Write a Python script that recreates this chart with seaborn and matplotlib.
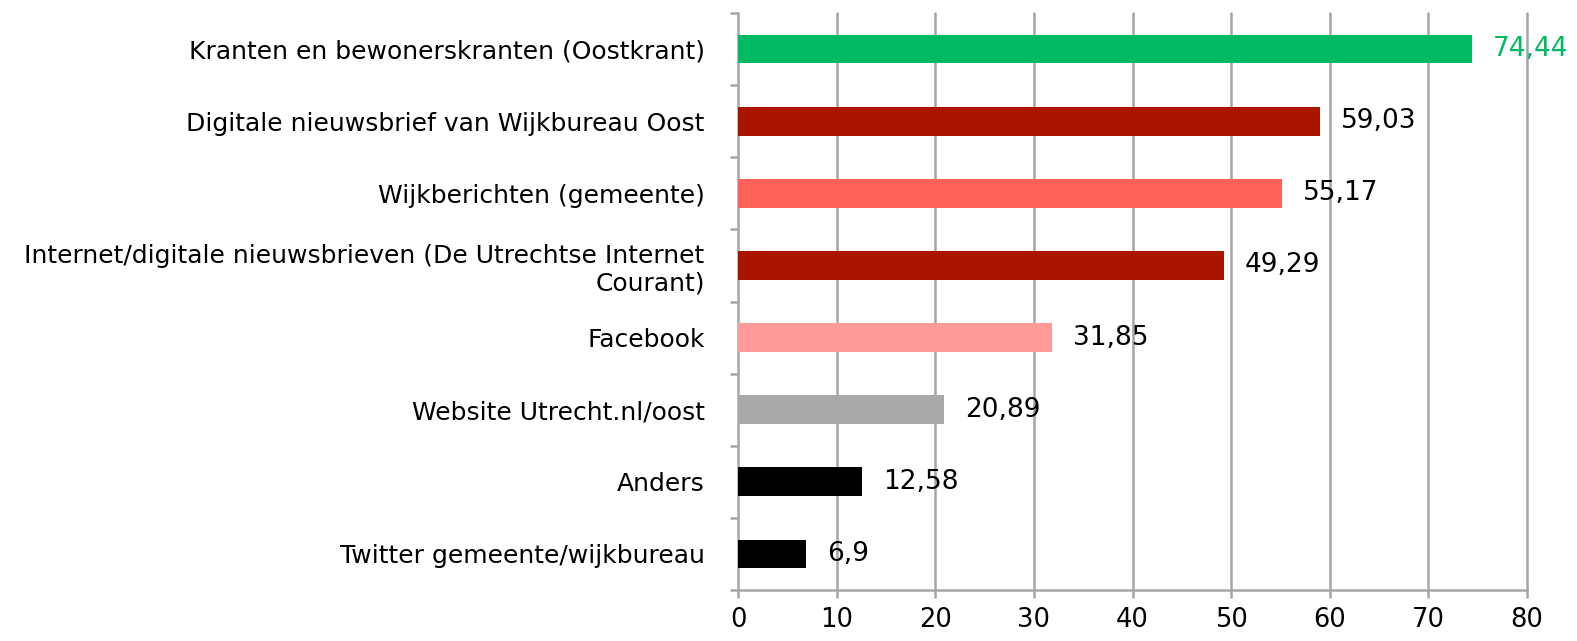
import matplotlib
matplotlib.use("Agg")
import matplotlib.pyplot as plt
import pandas as pd
import seaborn as sns

categories = [
    "Kranten en bewonerskranten (Oostkrant)",
    "Digitale nieuwsbrief van Wijkbureau Oost",
    "Wijkberichten (gemeente)",
    "Internet/digitale nieuwsbrieven (De Utrechtse Internet\nCourant)",
    "Facebook",
    "Website Utrecht.nl/oost",
    "Anders",
    "Twitter gemeente/wijkbureau",
]
values = [74.44, 59.03, 55.17, 49.29, 31.85, 20.89, 12.58, 6.9]
value_labels = ["74,44", "59,03", "55,17", "49,29", "31,85", "20,89", "12,58", "6,9"]
colors = ["#00BA63", "#AA1500", "#FF6259", "#AA1500", "#FF9C99", "#A9A9A9", "#000000", "#000000"]
x_ticks = [0, 10, 20, 30, 40, 50, 60, 70, 80]

df = pd.DataFrame({"category": categories, "value": values})

sns.set_theme(style="white")
plt.rcParams["font.family"] = ["DejaVu Sans"]
plt.rcParams["text.color"] = "black"
plt.rcParams["xtick.color"] = "black"
plt.rcParams["ytick.color"] = "black"

fig = plt.figure(figsize=(15.77, 6.41), dpi=100)
ax = fig.add_axes([738 / 1577, 51 / 641, 789 / 1577, 577 / 641])

sns.barplot(data=df, y="category", x="value", hue="category", palette=colors,
            orient="h", width=0.4, legend=False, ax=ax, saturation=1,
            linewidth=0, zorder=3)

grid_c = "#A6A6A6"
for t in x_ticks[1:]:
    ax.axvline(t, color=grid_c, lw=1.8, zorder=1, clip_on=False)

ax.set_xlim(0, 80)
ax.set_ylim(7.5, -0.5)
ax.set_xticks(x_ticks)
ax.set_xticklabels([str(t) for t in x_ticks], fontsize=18.5)
ax.set_xlabel("")
ax.set_ylabel("")
ax.set_yticks(range(len(categories)))
ax.set_yticklabels(categories, fontsize=18)
for lab in ax.get_yticklabels():
    lab.set_multialignment("right")
ax.set_yticks([i - 0.5 for i in range(len(categories) + 1)], minor=True)
ax.tick_params(axis="y", which="major", left=True, length=0, pad=24)
ax.tick_params(axis="y", which="minor", left=True, length=6, width=1.8,
               color=grid_c, direction="out")
ax.tick_params(axis="x", which="major", bottom=True, length=6, width=1.8,
               color=grid_c, direction="out", pad=6)

for side in ["top", "right"]:
    ax.spines[side].set_visible(False)
for side in ["left", "bottom"]:
    ax.spines[side].set_color(grid_c)
    ax.spines[side].set_linewidth(1.8)

for i, (v, lab) in enumerate(zip(values, value_labels)):
    c = colors[0] if i == 0 else "black"
    ax.annotate(lab, (v, i), xytext=(15, 0), textcoords="offset points",
                va="center", ha="left", fontsize=19, color=c, zorder=4,
                annotation_clip=False)

fig.savefig("out.png", dpi=100)
